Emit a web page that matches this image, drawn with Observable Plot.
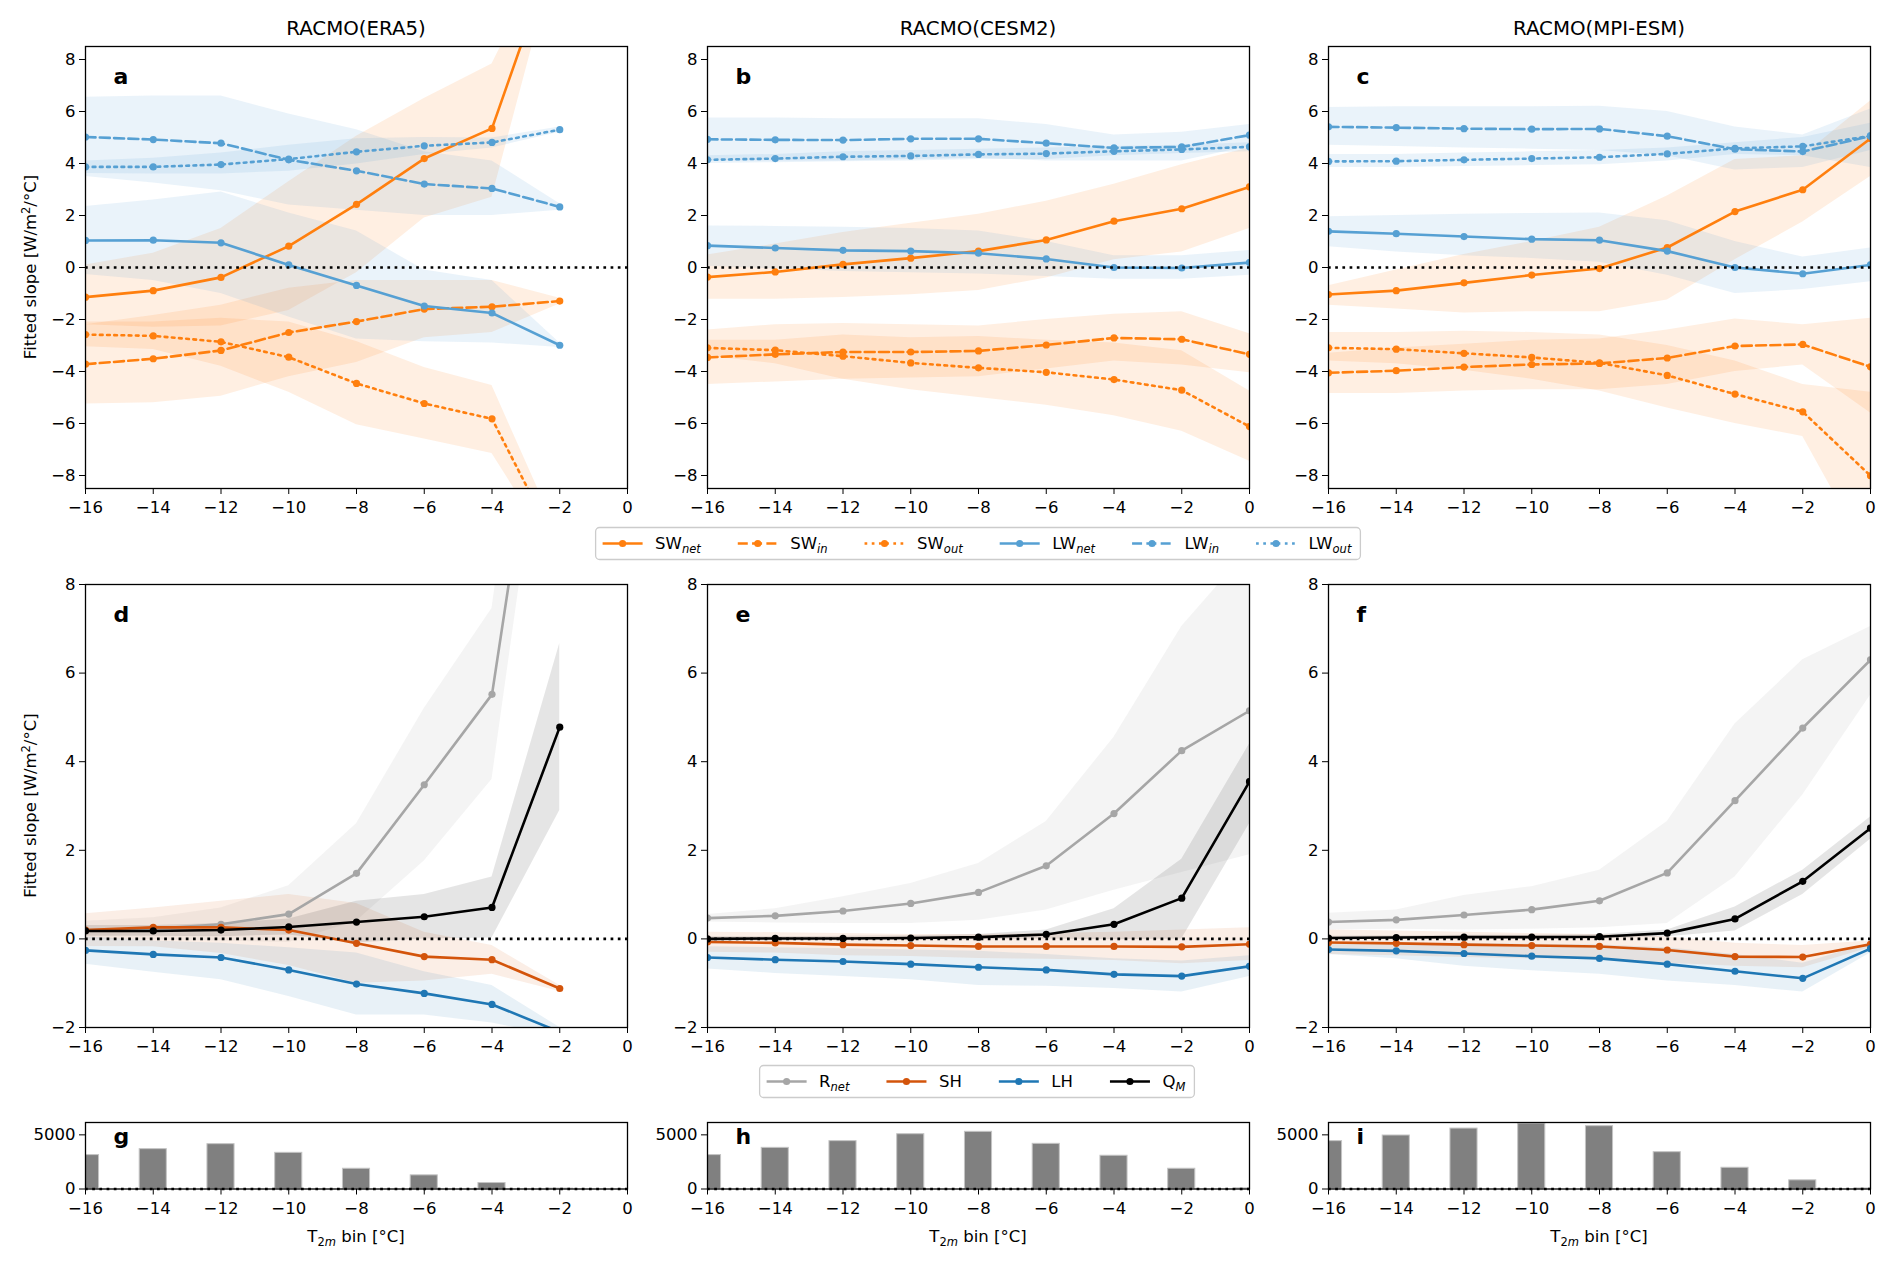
<!DOCTYPE html>
<html><head><meta charset="utf-8">
<script src="https://cdn.jsdelivr.net/npm/d3@7"></script>
<script src="https://cdn.jsdelivr.net/npm/@observablehq/plot@0.6"></script>
<style>
body{margin:0;background:#fff;}
#fig{position:relative;width:1892px;height:1262px;background:#fff;overflow:hidden;font-family:"DejaVu Sans",sans-serif;}
</style></head><body><div id="fig"></div>
<script>
// ---------- categories / ticks ----------
const binsAll = [-16,-14,-12,-10,-8,-6,-4,-2,0];
const binsERA5 = [-16,-14,-12,-10,-8,-6,-4,-2];
const xTicks = [-16,-14,-12,-10,-8,-6,-4,-2,0];
const yTicksTop = [-8,-6,-4,-2,0,2,4,6,8];
const yTicksBottom = [-2,0,2,4,6,8];
const yTicksHist = [0,5000];
const panelTitles = ["RACMO(ERA5)","RACMO(CESM2)","RACMO(MPI-ESM)"];
const lettersTop = ["a","b","c"];
const lettersBottom = ["d","e","f"];
const lettersHist = ["g","h","i"];

// ---------- panel a: RACMO(ERA5) radiation ----------
const era5_SWnet    = [-1.14,-0.89,-0.38,0.82,2.43,4.19,5.35,12.8];
const era5_SWnet_lo = [-2.2,-2.3,-2.25,-1.65,-0.2,1.9,2.7,12.5];
const era5_SWnet_hi = [0.1,0.55,1.5,3.3,5.05,6.5,7.83,13.0];
const era5_SWin     = [-3.72,-3.51,-3.19,-2.50,-2.08,-1.60,-1.51,-1.29];
const era5_SWin_lo  = [-5.25,-5.2,-4.95,-4.2,-3.65,-2.7,-2.5,-1.4];
const era5_SWin_hi  = [-2.2,-1.85,-1.45,-0.8,-0.5,-0.5,-0.5,-1.18];
const era5_SWout    = [-2.58,-2.63,-2.86,-3.45,-4.46,-5.23,-5.82,-10.9];
const era5_SWout_lo = [-3.05,-3.15,-3.8,-4.8,-6.05,-6.6,-7.15,-11.3];
const era5_SWout_hi = [-2.1,-2.1,-1.95,-2.1,-2.85,-3.85,-4.54,-10.4];
const era5_LWnet    = [1.04,1.05,0.95,0.10,-0.69,-1.48,-1.75,-2.99];
const era5_LWnet_lo = [-0.27,-0.5,-1.0,-1.9,-2.75,-2.86,-2.9,-3.08];
const era5_LWnet_hi = [2.35,2.6,2.9,2.1,1.4,-0.1,-0.5,-2.9];
const era5_LWin     = [5.02,4.92,4.78,4.14,3.72,3.21,3.04,2.33];
const era5_LWin_lo  = [3.5,3.25,2.95,2.4,2.2,2.0,2.0,2.2];
const era5_LWin_hi  = [6.55,6.6,6.6,5.9,5.3,4.45,4.1,2.45];
const era5_LWout    = [3.87,3.87,3.96,4.17,4.45,4.68,4.81,5.30];
const era5_LWout_lo = [3.62,3.6,3.6,3.7,3.98,4.35,4.6,5.2];
const era5_LWout_hi = [4.1,4.2,4.4,4.7,4.95,5.0,4.98,5.4];

// ---------- panel b: RACMO(CESM2) radiation ----------
const cesm_SWnet    = [-0.37,-0.17,0.12,0.36,0.63,1.06,1.78,2.26,3.10];
const cesm_SWnet_lo = [-1.22,-1.22,-1.15,-1.05,-0.88,-0.4,0.3,0.6,1.5];
const cesm_SWnet_hi = [0.48,0.9,1.35,1.7,2.05,2.55,3.2,3.95,4.6];
const cesm_SWin     = [-3.46,-3.34,-3.25,-3.25,-3.21,-2.98,-2.71,-2.76,-3.34];
const cesm_SWin_lo  = [-4.5,-4.4,-4.3,-4.25,-4.2,-3.9,-3.6,-3.75,-4.05];
const cesm_SWin_hi  = [-2.4,-2.2,-2.15,-2.2,-2.25,-2.0,-1.8,-1.7,-2.55];
const cesm_SWout    = [-3.09,-3.18,-3.41,-3.67,-3.86,-4.03,-4.31,-4.72,-6.12];
const cesm_SWout_lo = [-3.4,-3.7,-4.3,-4.7,-5.0,-5.3,-5.7,-6.3,-7.45];
const cesm_SWout_hi = [-2.8,-2.8,-2.6,-2.7,-2.65,-2.8,-2.9,-3.2,-4.75];
const cesm_LWnet    = [0.84,0.75,0.66,0.63,0.55,0.33,0.0,-0.02,0.19];
const cesm_LWnet_lo = [0.05,-0.05,-0.15,-0.2,-0.25,-0.35,-0.45,-0.45,-0.3];
const cesm_LWnet_hi = [1.6,1.58,1.55,1.5,1.4,1.0,0.45,0.45,0.65];
const cesm_LWin     = [4.93,4.91,4.90,4.95,4.95,4.78,4.60,4.64,5.09];
const cesm_LWin_lo  = [4.1,4.1,4.1,4.15,4.2,4.1,4.1,4.1,4.65];
const cesm_LWin_hi  = [5.75,5.75,5.72,5.72,5.72,5.5,5.1,5.2,5.5];
const cesm_LWout    = [4.14,4.19,4.26,4.29,4.35,4.38,4.47,4.54,4.64];
const cesm_LWout_lo = [4.0,4.03,4.07,4.1,4.15,4.15,4.3,4.38,4.45];
const cesm_LWout_hi = [4.3,4.35,4.45,4.5,4.55,4.6,4.65,4.7,4.8];

// ---------- panel c: RACMO(MPI-ESM) radiation ----------
const mpi_SWnet    = [-1.04,-0.89,-0.59,-0.29,-0.04,0.77,2.15,2.99,4.96];
const mpi_SWnet_lo = [-1.45,-1.6,-1.75,-1.7,-1.7,-1.25,0.3,1.75,3.5];
const mpi_SWnet_hi = [-0.7,-0.1,0.5,1.0,1.55,2.75,4.15,4.3,6.4];
const mpi_SWin     = [-4.05,-3.97,-3.83,-3.73,-3.69,-3.48,-3.02,-2.96,-3.82];
const mpi_SWin_lo  = [-4.85,-4.85,-4.75,-4.7,-4.7,-4.5,-4.0,-3.75,-5.6];
const mpi_SWin_hi  = [-3.3,-3.1,-2.95,-2.8,-2.75,-2.4,-1.98,-2.2,-1.95];
const mpi_SWout    = [-3.09,-3.14,-3.30,-3.46,-3.67,-4.15,-4.87,-5.55,-8.01];
const mpi_SWout_lo = [-3.6,-3.7,-3.95,-4.3,-4.75,-5.4,-6.0,-6.5,-11.2];
const mpi_SWout_hi = [-2.5,-2.5,-2.45,-2.5,-2.6,-3.0,-3.6,-4.5,-4.8];
const mpi_LWnet    = [1.39,1.30,1.19,1.09,1.05,0.63,0.0,-0.24,0.10];
const mpi_LWnet_lo = [0.8,0.6,0.45,0.35,0.2,-0.3,-1.0,-0.85,-0.55];
const mpi_LWnet_hi = [1.95,2.0,2.05,2.08,2.1,1.8,1.0,0.4,0.75];
const mpi_LWin     = [5.41,5.38,5.34,5.32,5.33,5.05,4.55,4.46,5.05];
const mpi_LWin_lo  = [4.7,4.65,4.6,4.55,4.5,4.3,3.75,3.85,4.5];
const mpi_LWin_hi  = [6.15,6.18,6.18,6.18,6.2,6.0,5.4,5.1,6.1];
const mpi_LWout    = [4.08,4.09,4.14,4.19,4.24,4.37,4.58,4.66,5.06];
const mpi_LWout_lo = [3.85,3.85,3.88,3.92,3.95,4.1,4.35,4.3,3.85];
const mpi_LWout_hi = [4.35,4.35,4.4,4.45,4.5,4.6,4.8,5.0,5.55];

// ---------- panel d: RACMO(ERA5) energy budget ----------
const era5_Rnet    = [0.20,0.23,0.33,0.56,1.48,3.48,5.52,15.6];
const era5_Rnet_lo = [0.0,-0.02,-0.05,-0.08,0.4,1.76,3.6,14.5];
const era5_Rnet_hi = [0.4,0.48,0.7,1.2,2.6,5.2,7.46,18.5];
const era5_SH      = [0.20,0.26,0.26,0.20,-0.10,-0.40,-0.47,-1.12];
const era5_SH_lo   = [-0.17,-0.18,-0.33,-0.6,-1.0,-0.95,-0.8,-1.19];
const era5_SH_hi   = [0.57,0.7,0.85,1.0,0.8,0.15,-0.15,-1.05];
const era5_LH      = [-0.26,-0.35,-0.42,-0.70,-1.02,-1.23,-1.48,-2.1];
const era5_LH_lo   = [-0.57,-0.75,-0.92,-1.3,-1.72,-1.72,-1.9,-2.2];
const era5_LH_hi   = [0.05,-0.05,-0.1,-0.2,-0.32,-0.74,-1.05,-2.0];
const era5_QM      = [0.18,0.18,0.20,0.27,0.38,0.50,0.71,4.78];
const era5_QM_lo   = [0.06,0.06,0.05,0.09,-0.09,0.0,0.02,2.9];
const era5_QM_hi   = [0.3,0.3,0.35,0.45,0.85,1.0,1.4,6.67];

// ---------- panel e: RACMO(CESM2) energy budget ----------
const cesm_Rnet    = [0.47,0.52,0.63,0.80,1.05,1.65,2.83,4.25,5.15];
const cesm_Rnet_lo = [0.38,0.36,0.35,0.35,0.42,0.65,1.1,1.5,1.9];
const cesm_Rnet_hi = [0.55,0.68,0.95,1.25,1.7,2.65,4.55,7.05,8.8];
const cesm_SH      = [-0.07,-0.09,-0.13,-0.15,-0.17,-0.17,-0.17,-0.18,-0.12];
const cesm_SH_lo   = [-0.3,-0.32,-0.38,-0.4,-0.44,-0.46,-0.49,-0.56,-0.49];
const cesm_SH_hi   = [0.15,0.14,0.12,0.1,0.1,0.12,0.15,0.2,0.25];
const cesm_LH      = [-0.42,-0.47,-0.51,-0.57,-0.64,-0.70,-0.80,-0.84,-0.62];
const cesm_LH_lo   = [-0.68,-0.78,-0.85,-0.92,-1.05,-1.07,-1.12,-1.2,-0.85];
const cesm_LH_hi   = [-0.18,-0.2,-0.22,-0.25,-0.28,-0.35,-0.45,-0.5,-0.38];
const cesm_QM      = [0.0,0.01,0.01,0.02,0.04,0.10,0.33,0.92,3.55];
const cesm_QM_lo   = [-0.05,-0.04,-0.04,-0.03,-0.02,0.0,-0.02,0.0,2.6];
const cesm_QM_hi   = [0.05,0.05,0.06,0.07,0.1,0.2,0.68,1.8,4.4];

// ---------- panel f: RACMO(MPI-ESM) energy budget ----------
const mpi_Rnet    = [0.38,0.43,0.54,0.66,0.86,1.49,3.12,4.76,6.30];
const mpi_Rnet_lo = [0.2,0.22,0.2,0.22,0.25,0.35,1.4,3.25,5.5];
const mpi_Rnet_hi = [0.58,0.65,0.98,1.18,1.55,2.65,4.85,6.3,7.05];
const mpi_SH      = [-0.08,-0.10,-0.13,-0.15,-0.17,-0.25,-0.40,-0.41,-0.12];
const mpi_SH_lo   = [-0.35,-0.38,-0.42,-0.45,-0.47,-0.55,-0.62,-0.65,-0.2];
const mpi_SH_hi   = [0.2,0.18,0.15,0.12,0.1,0.05,-0.1,-0.15,-0.05];
const mpi_LH      = [-0.24,-0.27,-0.33,-0.39,-0.44,-0.57,-0.73,-0.89,-0.22];
const mpi_LH_lo   = [-0.35,-0.45,-0.62,-0.72,-0.8,-0.95,-1.05,-1.2,-0.32];
const mpi_LH_hi   = [-0.13,-0.12,-0.1,-0.12,-0.14,-0.2,-0.35,-0.55,-0.1];
const mpi_QM      = [0.02,0.03,0.04,0.04,0.05,0.13,0.45,1.30,2.50];
const mpi_QM_lo   = [-0.02,-0.01,0.0,0.0,0.0,0.05,0.18,1.0,2.25];
const mpi_QM_hi   = [0.06,0.07,0.08,0.08,0.1,0.2,0.72,1.55,2.75];

// ---------- panels g-i: sample counts per T2m bin ----------
const era5_count = [3130,3680,4140,3340,1870,1260,550,40];
const cesm_count = [3130,3800,4420,5060,5280,4170,3070,1870,60];
const mpi_count  = [4420,4940,5580,6040,5800,3400,1960,800,50];

// ---------- styles ----------
const C_SW = "#ff7f0e", C_LW = "#56a0d3", C_RNET = "#a6a6a6", C_SH = "#d3540b", C_LH = "#1f77b4", C_QM = "#000000";
const DASHED = "10,4.3", DOTTED = "2.7,4.5";
const FONT = "DejaVu Sans";
const fmt = d3.format("d");
const ML = 60, MR = 14, MT = 8, MB = 34, PW = 542;
const COL_LEFT = [85, 707, 1328];

const fig = document.getElementById("fig");

function rows(xs, y, lo, hi) { return xs.map((x, i) => ({x, y: y[i], lo: lo[i], hi: hi[i]})); }

function linePanel({xs, series, yDomain, yTicks, letter, plotH, left, top, opacity}) {
  const marks = [];
  for (const s of series) {
    const d = rows(xs, s.y, s.lo, s.hi);
    marks.push(Plot.areaY(d, {x: "x", y1: "lo", y2: "hi", fill: s.color, fillOpacity: s.fo ?? 0.13, clip: true}));
  }
  for (const s of series) {
    const d = rows(xs, s.y, s.lo, s.hi);
    marks.push(Plot.lineY(d, {x: "x", y: "y", stroke: s.color, strokeWidth: 2.6, strokeDasharray: s.dash, clip: true}));
    marks.push(Plot.dot(d, {x: "x", y: "y", r: 3.6, fill: s.color, stroke: null, clip: true}));
  }
  marks.push(Plot.ruleY([0], {stroke: "black", strokeWidth: 2.6, strokeDasharray: DOTTED}));
  marks.push(Plot.frame({stroke: "black", strokeWidth: 1.3}));
  marks.push(Plot.text([letter], {text: d => d, frameAnchor: "top-left", dx: 28, dy: 22, fontWeight: "bold", fontSize: 22, textAnchor: "start", lineAnchor: "top", fill: "black"}));
  const p = Plot.plot({
    width: PW + ML + MR, height: plotH + MT + MB,
    marginLeft: ML, marginRight: MR, marginTop: MT, marginBottom: MB,
    style: {fontFamily: FONT, fontSize: "16.5px", color: "black", background: "white"},
    x: {domain: [-16, 0], ticks: xTicks, tickFormat: fmt, label: null, tickSize: 6, tickPadding: 7},
    y: {domain: yDomain, ticks: yTicks, tickFormat: fmt, label: null, tickSize: 6, tickPadding: 4},
    marks
  });
  p.style.position = "absolute"; p.style.left = (left - ML) + "px"; p.style.top = (top - MT) + "px";
  fig.appendChild(p);
}

function histPanel({xs, counts, letter, left, top, plotH}) {
  const d = xs.map((x, i) => ({x, n: counts[i]}));
  const half = 0.4;
  const p = Plot.plot({
    width: PW + ML + MR, height: plotH + MT + MB,
    marginLeft: ML, marginRight: MR, marginTop: MT, marginBottom: MB,
    style: {fontFamily: FONT, fontSize: "16.5px", color: "black", background: "white"},
    x: {domain: [-16, 0], ticks: xTicks, tickFormat: fmt, label: null, tickSize: 6, tickPadding: 7},
    y: {domain: [0, 6140], ticks: yTicksHist, tickFormat: fmt, label: null, tickSize: 6, tickPadding: 4},
    marks: [
      Plot.rectY(d, {x1: r => r.x - half, x2: r => r.x + half, y: "n", fill: "#808080", stroke: "#c4c4c4", strokeWidth: 1, inset: 0, clip: true}),
      Plot.ruleY([0], {stroke: "black", strokeWidth: 2.6, strokeDasharray: DOTTED}),
      Plot.frame({stroke: "black", strokeWidth: 1.3}),
      Plot.text([letter], {text: t => t, frameAnchor: "top-left", dx: 28, dy: 6, fontWeight: "bold", fontSize: 22, textAnchor: "start", lineAnchor: "top", fill: "black"})
    ]
  });
  p.style.position = "absolute"; p.style.left = (left - ML) + "px"; p.style.top = (top - MT) + "px";
  fig.appendChild(p);
}

// ---------- top row ----------
const topSets = [
  {xs: binsERA5, s: [
    [era5_SWnet, era5_SWnet_lo, era5_SWnet_hi, C_SW, null],
    [era5_SWin, era5_SWin_lo, era5_SWin_hi, C_SW, DASHED],
    [era5_SWout, era5_SWout_lo, era5_SWout_hi, C_SW, DOTTED],
    [era5_LWnet, era5_LWnet_lo, era5_LWnet_hi, C_LW, null],
    [era5_LWin, era5_LWin_lo, era5_LWin_hi, C_LW, DASHED],
    [era5_LWout, era5_LWout_lo, era5_LWout_hi, C_LW, DOTTED]]},
  {xs: binsAll, s: [
    [cesm_SWnet, cesm_SWnet_lo, cesm_SWnet_hi, C_SW, null],
    [cesm_SWin, cesm_SWin_lo, cesm_SWin_hi, C_SW, DASHED],
    [cesm_SWout, cesm_SWout_lo, cesm_SWout_hi, C_SW, DOTTED],
    [cesm_LWnet, cesm_LWnet_lo, cesm_LWnet_hi, C_LW, null],
    [cesm_LWin, cesm_LWin_lo, cesm_LWin_hi, C_LW, DASHED],
    [cesm_LWout, cesm_LWout_lo, cesm_LWout_hi, C_LW, DOTTED]]},
  {xs: binsAll, s: [
    [mpi_SWnet, mpi_SWnet_lo, mpi_SWnet_hi, C_SW, null],
    [mpi_SWin, mpi_SWin_lo, mpi_SWin_hi, C_SW, DASHED],
    [mpi_SWout, mpi_SWout_lo, mpi_SWout_hi, C_SW, DOTTED],
    [mpi_LWnet, mpi_LWnet_lo, mpi_LWnet_hi, C_LW, null],
    [mpi_LWin, mpi_LWin_lo, mpi_LWin_hi, C_LW, DASHED],
    [mpi_LWout, mpi_LWout_lo, mpi_LWout_hi, C_LW, DOTTED]]}
];
topSets.forEach((set, i) => linePanel({
  xs: set.xs,
  series: set.s.map(([y, lo, hi, color, dash]) => ({y, lo, hi, color, dash, fo: 0.12})),
  yDomain: [-8.5, 8.5], yTicks: yTicksTop, letter: lettersTop[i], plotH: 442, left: COL_LEFT[i], top: 46
}));

// ---------- bottom row ----------
const botSets = [
  {xs: binsERA5, s: [
    [era5_Rnet, era5_Rnet_lo, era5_Rnet_hi, C_RNET, 0.12],
    [era5_SH, era5_SH_lo, era5_SH_hi, C_SH, 0.1],
    [era5_LH, era5_LH_lo, era5_LH_hi, C_LH, 0.1],
    [era5_QM, era5_QM_lo, era5_QM_hi, C_QM, 0.1]]},
  {xs: binsAll, s: [
    [cesm_Rnet, cesm_Rnet_lo, cesm_Rnet_hi, C_RNET, 0.12],
    [cesm_SH, cesm_SH_lo, cesm_SH_hi, C_SH, 0.1],
    [cesm_LH, cesm_LH_lo, cesm_LH_hi, C_LH, 0.1],
    [cesm_QM, cesm_QM_lo, cesm_QM_hi, C_QM, 0.1]]},
  {xs: binsAll, s: [
    [mpi_Rnet, mpi_Rnet_lo, mpi_Rnet_hi, C_RNET, 0.12],
    [mpi_SH, mpi_SH_lo, mpi_SH_hi, C_SH, 0.1],
    [mpi_LH, mpi_LH_lo, mpi_LH_hi, C_LH, 0.1],
    [mpi_QM, mpi_QM_lo, mpi_QM_hi, C_QM, 0.1]]}
];
botSets.forEach((set, i) => linePanel({
  xs: set.xs,
  series: set.s.map(([y, lo, hi, color, fo]) => ({y, lo, hi, color, dash: null, fo})),
  yDomain: [-2, 8], yTicks: yTicksBottom, letter: lettersBottom[i], plotH: 443, left: COL_LEFT[i], top: 584
}));

// ---------- histograms ----------
const histSets = [[binsERA5, era5_count], [binsAll, cesm_count], [binsAll, mpi_count]];
histSets.forEach(([xs, counts], i) => histPanel({xs, counts, letter: lettersHist[i], left: COL_LEFT[i], top: 1122, plotH: 66.5}));

// ---------- overlay: titles, axis labels, legends ----------
const ov = d3.select(fig).append("svg")
  .attr("width", 1892).attr("height", 1262)
  .style("position", "absolute").style("left", "0px").style("top", "0px")
  .style("pointer-events", "none")
  .attr("font-family", FONT);

panelTitles.forEach((t, i) => {
  ov.append("text").attr("x", COL_LEFT[i] + PW / 2).attr("y", 35).attr("text-anchor", "middle")
    .attr("font-size", 19.8).attr("fill", "black").text(t);
});

[267, 805.5].forEach(cy => {
  const t = ov.append("text").attr("transform", `translate(30,${cy}) rotate(-90)`)
    .attr("text-anchor", "middle").attr("dy", "0.36em").attr("font-size", 16.5).attr("fill", "black");
  t.append("tspan").text("Fitted slope [W/m");
  t.append("tspan").attr("font-size", 11.5).attr("dy", -6).text("2");
  t.append("tspan").attr("dy", 6).text("/°C]");
});

COL_LEFT.forEach(l => {
  const t = ov.append("text").attr("x", l + PW / 2).attr("y", 1242).attr("text-anchor", "middle")
    .attr("font-size", 16.5).attr("fill", "black");
  t.append("tspan").text("T");
  t.append("tspan").attr("font-size", 11.5).attr("dy", 4).text("2");
  t.append("tspan").attr("font-size", 11.5).attr("font-style", "italic").text("m");
  t.append("tspan").attr("dy", -4).text(" bin [°C]");
});

function legend(items, cx, cy) {
  const HANDLE = 40, PAD = 12.5, COLSP = 37, PADL = 7, PADR = 9, BH = 32;
  const g = ov.append("g");
  const box = g.append("rect");
  let x = 0;
  for (const it of items) {
    const ig = g.append("g").attr("transform", `translate(${x},0)`);
    ig.append("line").attr("x1", 0).attr("x2", HANDLE).attr("y1", 0).attr("y2", 0)
      .attr("stroke", it.color).attr("stroke-width", 2.6).attr("stroke-dasharray", it.dash || null);
    ig.append("circle").attr("cx", HANDLE / 2).attr("cy", 0).attr("r", 3.6).attr("fill", it.color);
    const t = ig.append("text").attr("x", HANDLE + PAD).attr("y", 0).attr("dy", "0.36em")
      .attr("font-size", 16.5).attr("fill", "black");
    t.append("tspan").text(it.main);
    t.append("tspan").attr("font-size", 11.5).attr("font-style", "italic").attr("dy", 4).text(it.sub);
    x += HANDLE + PAD + t.node().getComputedTextLength() + COLSP;
  }
  const total = x - COLSP;
  box.attr("x", -PADL).attr("y", -BH / 2).attr("width", total + PADL + PADR).attr("height", BH)
    .attr("rx", 4).attr("fill", "white").attr("fill-opacity", 0.8).attr("stroke", "#cccccc").attr("stroke-width", 1.3);
  g.attr("transform", `translate(${cx - (total + PADL + PADR) / 2 + PADL},${cy})`);
}

legend([
  {main: "SW", sub: "net", color: C_SW, dash: null},
  {main: "SW", sub: "in", color: C_SW, dash: DASHED},
  {main: "SW", sub: "out", color: C_SW, dash: DOTTED},
  {main: "LW", sub: "net", color: C_LW, dash: null},
  {main: "LW", sub: "in", color: C_LW, dash: DASHED},
  {main: "LW", sub: "out", color: C_LW, dash: DOTTED}
], 978, 543.5);

legend([
  {main: "R", sub: "net", color: C_RNET, dash: null},
  {main: "SH", sub: "", color: C_SH, dash: null},
  {main: "LH", sub: "", color: C_LH, dash: null},
  {main: "Q", sub: "M", color: C_QM, dash: null}
], 977, 1081.5);
</script>
</body></html>
